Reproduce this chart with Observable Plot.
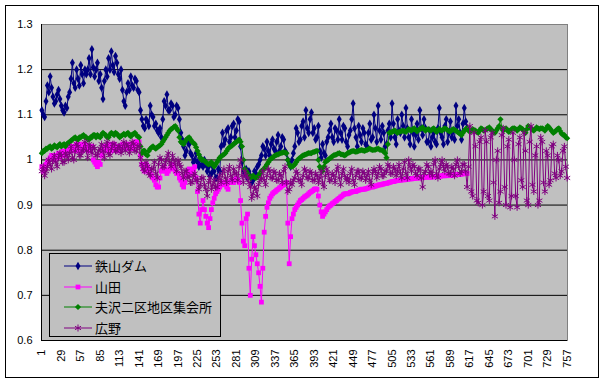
<!DOCTYPE html>
<html>
<head>
<meta charset="utf-8">
<script src="https://cdn.jsdelivr.net/npm/d3@7"></script>
<script src="https://cdn.jsdelivr.net/npm/@observablehq/plot@0.6"></script>
<style>
  html, body { margin: 0; padding: 0; background: #fff; }
  #wrap { position: relative; width: 604px; height: 381px; overflow: hidden; }
  #chart { position: absolute; left: 0; top: 0; }
  #border { position: absolute; left: 5px; top: 5px; width: 594px; height: 373px; box-sizing: border-box; border: 1px solid #000; pointer-events: none; }
  #legend { position: absolute; left: 49px; top: 253px; width: 172px; height: 84px; box-sizing: border-box; border: 1px solid #000; background: #C0C0C0; }
  .row { position: absolute; left: 0; height: 20px; width: 170px; }
  .row svg { position: absolute; left: 13px; top: 3px; }
  .row span { position: absolute; left: 45px; top: 0; font-family: "Noto Sans CJK JP", sans-serif; font-size: 13px; line-height: 20px; color: #000; white-space: nowrap; }
</style>
</head>
<body>
<div id="wrap">
  <div id="chart"></div>
  <div id="legend"></div>
  <div id="border"></div>
</div>
<script>
// category axis: measurement number (1..757); values listed for every 2nd category
const categoryStep = 2;
const xTickLabels = [1, 29, 57, 85, 113, 141, 169, 197, 225, 253, 281, 309, 337, 365, 393, 421, 449, 477, 505, 533, 561, 589, 617, 645, 673, 701, 729, 757];
const yTickLabels = [0.6, 0.7, 0.8, 0.9, 1.0, 1.1, 1.2, 1.3];
const seriesNames = ["鉄山ダム", "山田", "夫沢二区地区集会所", "広野"];

const tetsuyamaDam = [
  1.11, 1.10, 1.095, 1.13, 1.165, 1.15, 1.185, 1.16, 1.14, 1.125, 1.13, 1.145, 1.155, 1.135, 1.12, 1.11, 1.105, 1.12, 1.115, 1.14,
  1.15, 1.18, 1.215, 1.17, 1.16, 1.2, 1.18, 1.165, 1.21, 1.19, 1.17, 1.2, 1.19, 1.2, 1.225, 1.19, 1.245, 1.205, 1.185, 1.2,
  1.215, 1.175, 1.19, 1.16, 1.135, 1.175, 1.2, 1.185, 1.225, 1.2, 1.24, 1.21, 1.195, 1.23, 1.215, 1.19, 1.18, 1.2, 1.155, 1.13,
  1.12, 1.15, 1.17, 1.155, 1.185, 1.165, 1.16, 1.18, 1.175, 1.155, 1.15, 1.11, 1.09, 1.075, 1.07, 1.09, 1.085, 1.075, 1.12, 1.1,
  1.095, 1.075, 1.08, 1.065, 1.06, 1.07, 1.05, 1.09, 1.13, 1.12, 1.145, 1.11, 1.11, 1.125, 1.12, 1.095, 1.10, 1.12, 1.115, 1.09,
  1.06, 1.045, 1.03, 1.01, 1.02, 1.04, 1.035, 1.015, 1.01, 0.995, 1.0, 1.015, 0.995, 0.985, 1.005, 0.99, 0.985, 1.0, 0.99, 0.975,
  0.985, 0.965, 0.97, 0.985, 0.975, 0.96, 0.96, 0.98, 0.975, 1.03, 1.06, 1.035, 1.045, 1.065, 1.07, 1.04, 1.05, 1.075, 1.08, 1.05,
  1.065, 1.09, 1.085, 1.03, 0.995, 0.975, 0.97, 0.98, 0.96, 0.975, 0.965, 0.95, 0.955, 0.975, 0.97, 0.985, 0.99, 1.0, 1.01, 1.03,
  1.025, 1.01, 1.04, 1.02, 1.01, 1.035, 1.045, 1.025, 1.02, 1.04, 1.055, 1.02, 1.03, 1.05, 1.045, 1.02, 1.015, 1.0, 0.995, 0.985,
  1.0, 1.015, 1.03, 1.07, 1.06, 1.04, 1.045, 1.075, 1.085, 1.05, 1.11, 1.07, 1.06, 1.09, 1.105, 1.06, 1.07, 1.045, 1.05, 1.075,
  1.02, 1.005, 1.035, 1.015, 1.01, 1.04, 1.05, 1.065, 1.08, 1.05, 1.04, 1.07, 1.065, 1.045, 1.09, 1.06, 1.045, 1.075, 1.07, 1.04,
  1.03, 1.055, 1.065, 1.09, 1.125, 1.07, 1.05, 1.03, 1.075, 1.055, 1.04, 1.07, 1.06, 1.035, 1.03, 1.06, 1.08, 1.045, 1.05, 1.1,
  1.07, 1.04, 1.12, 1.065, 1.045, 1.075, 1.06, 1.03, 1.035, 1.065, 1.08, 1.05, 1.125, 1.08, 1.05, 1.035, 1.09, 1.065, 1.06, 1.1,
  1.075, 1.05, 1.115, 1.07, 1.05, 1.035, 1.09, 1.06, 1.03, 1.055, 1.08, 1.045, 1.11, 1.07, 1.055, 1.09, 1.07, 1.04, 1.04, 1.065,
  1.03, 1.05, 1.06, 1.04, 1.035, 1.07, 1.115, 1.06, 1.05, 1.035, 1.075, 1.09, 1.04, 1.06, 1.085, 1.05, 1.065, 1.045, 1.12, 1.075,
  1.09, 1.06, 1.045, 1.08, 1.115, 1.085, 1.07
];

const yamada = [
  0.985, 0.975, 0.98, 0.99, 0.995, 1.0, 1.005, 1.01, 1.01, 1.0, 1.005, 1.01, 1.015, 1.005, 1.01, 1.02, 1.015, 1.01, 1.02, 1.025,
  1.02, 1.03, 1.025, 1.02, 1.03, 1.035, 1.02, 1.03, 1.035, 1.02, 1.025, 1.035, 1.03, 1.025, 1.02, 1.03, 1.03, 1.0, 0.995, 0.99,
  0.985, 0.995, 0.99, 1.01, 1.02, 1.03, 1.025, 1.02, 1.03, 1.035, 1.02, 1.025, 1.035, 1.03, 1.025, 1.02, 1.03, 1.025, 1.035, 1.03,
  1.03, 1.035, 1.025, 1.03, 1.035, 1.025, 1.03, 1.04, 1.04, 1.035, 1.04, 1.01, 0.99, 0.98, 0.975, 0.99, 0.985, 0.975, 0.97, 0.965,
  0.96, 0.955, 0.945, 0.94, 0.94, 0.96, 0.975, 0.98, 0.985, 0.975, 0.97, 0.975, 0.98, 0.985, 0.99, 0.98, 0.975, 0.97, 0.97, 0.96,
  0.955, 0.945, 0.94, 0.95, 0.965, 0.975, 0.98, 0.975, 0.97, 0.98, 0.985, 0.96, 0.93, 0.88, 0.86, 0.89, 0.91, 0.89, 0.875, 0.86,
  0.85, 0.87, 0.89, 0.905, 0.915, 0.925, 0.93, 0.935, 0.94, 0.945, 0.945, 0.95, 0.95, 0.94, 0.935, 0.95, 0.955, 0.95, 0.95, 0.955,
  0.96, 0.955, 0.95, 0.91, 0.86, 0.82, 0.81, 0.87, 0.88, 0.76, 0.70, 0.78, 0.83, 0.81, 0.79, 0.77, 0.75, 0.72, 0.685, 0.76,
  0.84, 0.875, 0.895, 0.905, 0.915, 0.92, 0.925, 0.928, 0.93, 0.933, 0.935, 0.938, 0.94, 0.943, 0.945, 0.948, 0.95, 0.86, 0.77, 0.83,
  0.87, 0.88, 0.89, 0.895, 0.9, 0.905, 0.91, 0.912, 0.915, 0.918, 0.92, 0.922, 0.925, 0.928, 0.93, 0.932, 0.935, 0.936, 0.935, 0.92,
  0.9, 0.885, 0.875, 0.88, 0.885, 0.89, 0.895, 0.898, 0.9, 0.903, 0.905, 0.908, 0.91, 0.913, 0.915, 0.918, 0.92, 0.923, 0.925, 0.925,
  0.925, 0.926, 0.928, 0.929, 0.93, 0.93, 0.93, 0.932, 0.933, 0.934, 0.935, 0.935, 0.935, 0.936, 0.937, 0.938, 0.94, 0.94, 0.94, 0.941,
  0.942, 0.943, 0.944, 0.945, 0.945, 0.946, 0.947, 0.948, 0.948, 0.949, 0.95, 0.951, 0.952, 0.952, 0.953, 0.954, 0.955, 0.955, 0.955, 0.956,
  0.956, 0.956, 0.957, 0.957, 0.958, 0.958, 0.958, 0.959, 0.959, 0.96, 0.96, 0.96, 0.96, 0.961, 0.961, 0.961, 0.962, 0.962, 0.962, 0.962,
  0.962, 0.962, 0.963, 0.963, 0.963, 0.964, 0.964, 0.964, 0.965, 0.965, 0.965, 0.965, 0.966, 0.966, 0.966, 0.966, 0.967, 0.967, 0.968, 0.968,
  0.968, 0.968, 0.969, 0.969, 0.97, 0.97, 0.97
];

const osawa = [
  1.015, 1.02, 1.02, 1.025, 1.025, 1.028, 1.03, 1.025, 1.028, 1.032, 1.03, 1.028, 1.032, 1.035, 1.03, 1.033, 1.035, 1.03, 1.035, 1.038,
  1.04, 1.043, 1.045, 1.048, 1.05, 1.046, 1.045, 1.05, 1.05, 1.053, 1.055, 1.05, 1.05, 1.046, 1.045, 1.05, 1.05, 1.055, 1.055, 1.05,
  1.055, 1.052, 1.05, 1.056, 1.06, 1.057, 1.055, 1.05, 1.05, 1.056, 1.06, 1.058, 1.055, 1.06, 1.058, 1.054, 1.05, 1.053, 1.055, 1.058,
  1.055, 1.058, 1.06, 1.055, 1.052, 1.056, 1.058, 1.06, 1.055, 1.052, 1.05, 1.03, 1.015, 1.02, 1.02, 1.012, 1.01, 1.02, 1.025, 1.028,
  1.03, 1.027, 1.025, 1.028, 1.03, 1.032, 1.035, 1.04, 1.045, 1.05, 1.055, 1.06, 1.065, 1.068, 1.07, 1.073, 1.075, 1.07, 1.065, 1.05,
  1.04, 1.037, 1.035, 1.04, 1.045, 1.048, 1.05, 1.045, 1.04, 1.038, 1.035, 1.028, 1.02, 1.012, 1.005, 1.0, 1.0, 0.998, 0.995, 0.992,
  0.99, 0.992, 0.995, 0.99, 0.985, 0.99, 0.995, 1.0, 1.005, 1.008, 1.01, 1.012, 1.015, 1.02, 1.025, 1.028, 1.03, 1.032, 1.035, 1.038,
  1.04, 1.042, 1.045, 1.04, 1.03, 1.0, 0.98, 0.975, 0.97, 0.965, 0.96, 0.962, 0.965, 0.962, 0.96, 0.962, 0.965, 0.97, 0.975, 0.978,
  0.98, 0.985, 0.99, 0.995, 1.0, 1.003, 1.005, 1.008, 1.01, 1.011, 1.012, 1.014, 1.015, 1.016, 1.017, 1.016, 1.015, 1.0, 0.99, 0.985,
  0.985, 0.987, 0.99, 0.995, 1.0, 1.003, 1.005, 1.008, 1.01, 1.011, 1.012, 1.014, 1.015, 1.015, 1.015, 1.017, 1.018, 1.019, 1.02, 1.0,
  0.985, 0.98, 0.975, 0.985, 0.995, 0.998, 1.0, 1.003, 1.005, 1.008, 1.01, 1.011, 1.012, 1.014, 1.015, 1.013, 1.012, 1.011, 1.01, 1.012,
  1.015, 1.016, 1.018, 1.019, 1.02, 1.019, 1.018, 1.019, 1.02, 1.021, 1.022, 1.021, 1.02, 1.021, 1.022, 1.024, 1.025, 1.023, 1.022, 1.022,
  1.023, 1.024, 1.025, 1.023, 1.022, 1.021, 1.02, 1.015, 1.005, 1.035, 1.06, 1.061, 1.062, 1.064, 1.065, 1.062, 1.06, 1.062, 1.063, 1.064,
  1.065, 1.063, 1.062, 1.066, 1.068, 1.066, 1.065, 1.068, 1.07, 1.066, 1.063, 1.066, 1.068, 1.07, 1.072, 1.068, 1.065, 1.067, 1.068, 1.066,
  1.065, 1.068, 1.07, 1.066, 1.062, 1.065, 1.068, 1.066, 1.065, 1.068, 1.07, 1.068, 1.066, 1.064, 1.063, 1.066, 1.068, 1.066, 1.065, 1.062,
  1.06, 1.058, 1.055, 1.06, 1.065, 1.068, 1.07, 1.066, 1.062, 1.065, 1.068, 1.066, 1.065, 1.062, 1.06, 1.065, 1.07, 1.068, 1.065, 1.066,
  1.068, 1.07, 1.072, 1.068, 1.065, 1.062, 1.06, 1.065, 1.07, 1.075, 1.09, 1.07, 1.065, 1.068, 1.07, 1.066, 1.062, 1.065, 1.068, 1.07,
  1.07, 1.068, 1.065, 1.068, 1.072, 1.07, 1.068, 1.064, 1.06, 1.068, 1.075, 1.072, 1.07, 1.067, 1.065, 1.068, 1.072, 1.07, 1.068, 1.07,
  1.07, 1.068, 1.065, 1.07, 1.075, 1.072, 1.068, 1.064, 1.06, 1.062, 1.065, 1.068, 1.07, 1.064, 1.058, 1.056, 1.055, 1.05, 1.048
];

const hirono = [
  0.975, 0.985, 0.965, 0.975, 0.985, 1.0, 0.99, 0.98, 1.0, 1.01, 0.995, 0.985, 1.005, 1.015, 1.01, 0.995, 0.995, 1.015, 1.01, 1.0,
  1.015, 1.03, 1.005, 1.0, 1.02, 1.035, 1.03, 1.01, 1.01, 1.02, 1.025, 1.04, 1.02, 1.005, 1.035, 1.025, 1.015, 1.03, 1.025, 1.01,
  1.01, 1.02, 1.025, 1.035, 1.02, 1.005, 1.03, 1.04, 1.015, 1.01, 1.025, 1.035, 1.035, 1.02, 1.02, 1.03, 1.03, 1.015, 1.025, 1.04,
  1.02, 1.035, 1.03, 1.015, 1.025, 1.04, 1.035, 1.02, 1.02, 1.03, 1.03, 1.005, 0.99, 0.98, 0.975, 0.995, 0.985, 0.97, 0.965, 0.98,
  0.98, 0.995, 0.97, 0.96, 0.99, 1.005, 1.0, 0.985, 0.985, 0.995, 1.005, 1.015, 0.995, 0.985, 1.01, 1.0, 0.99, 0.975, 1.0, 0.99,
  0.985, 0.97, 0.96, 0.975, 0.975, 0.96, 0.965, 0.95, 0.95, 0.965, 0.97, 0.955, 0.955, 0.935, 0.945, 0.96, 0.96, 0.945, 0.935, 0.92,
  0.95, 0.96, 0.935, 0.945, 0.955, 0.94, 0.94, 0.955, 0.965, 0.95, 0.97, 0.98, 0.96, 0.95, 0.975, 0.985, 0.965, 0.955, 0.98, 0.97,
  0.97, 0.955, 0.985, 1.0, 0.965, 0.95, 0.975, 0.965, 0.96, 0.95, 0.94, 0.915, 0.925, 0.94, 0.935, 0.92, 0.945, 0.955, 0.96, 0.975,
  0.955, 0.945, 0.965, 0.98, 0.975, 0.96, 0.96, 0.975, 0.97, 0.955, 0.955, 0.97, 0.965, 0.95, 0.975, 0.985, 0.95, 0.93, 0.935, 0.95,
  0.945, 0.955, 0.96, 0.975, 0.97, 0.955, 0.955, 0.945, 0.965, 0.98, 0.975, 0.96, 0.96, 0.975, 0.97, 0.955, 0.955, 0.97, 0.965, 0.95,
  0.96, 0.975, 0.95, 0.94, 0.965, 0.98, 0.97, 0.955, 0.955, 0.97, 0.965, 0.95, 0.975, 0.985, 0.96, 0.945, 0.97, 0.98, 0.965, 0.955,
  0.96, 0.95, 0.97, 0.98, 0.955, 0.945, 0.965, 0.975, 0.975, 0.96, 0.96, 0.975, 0.97, 0.955, 0.965, 0.975, 0.955, 0.945, 0.97, 0.98,
  0.975, 0.96, 0.97, 0.985, 0.98, 0.965, 0.965, 0.975, 0.975, 0.99, 0.985, 0.97, 0.97, 0.985, 0.98, 0.965, 0.975, 0.99, 0.97, 0.96,
  0.98, 0.995, 0.97, 0.96, 1.0, 0.985, 0.975, 0.99, 0.985, 0.97, 0.965, 0.98, 0.98, 0.96, 0.94, 0.97, 0.975, 0.99, 0.985, 0.97,
  0.975, 0.965, 0.99, 1.0, 0.97, 0.96, 0.98, 0.99, 1.0, 0.985, 0.975, 0.99, 0.985, 0.97, 0.97, 0.985, 0.98, 0.965, 0.99, 1.0,
  0.985, 0.97, 0.975, 0.99, 0.99, 0.975, 0.94, 0.985, 1.075, 0.93, 0.92, 1.06, 1.03, 0.91, 0.905, 1.04, 1.05, 0.9, 0.93, 1.065,
  1.04, 0.92, 0.91, 1.05, 1.06, 0.95, 0.875, 1.0, 1.02, 0.905, 0.93, 1.055, 1.07, 0.94, 0.9, 1.03, 1.045, 0.895, 0.92, 1.06,
  1.0, 0.92, 0.895, 1.035, 1.05, 0.955, 0.94, 1.06, 1.02, 0.91, 0.9, 1.04, 1.075, 0.945, 0.93, 1.01, 1.03, 0.9, 0.91, 1.05,
  1.04, 0.95, 0.93, 1.02, 1.01, 0.945, 0.955, 1.03, 1.035, 0.97, 0.96, 1.01, 1.0, 0.965, 0.975, 1.02, 1.03, 0.985, 0.96
];

const seriesColors = ["#000080", "#FF00FF", "#008000", "#800080"];
const seriesValues = [tetsuyamaDam, yamada, osawa, hirono];

const rows = [];
seriesValues.forEach((vals, s) => {
  vals.forEach((v, i) => rows.push({series: seriesNames[s], x: 1 + i * categoryStep, y: v}));
});
const bySeries = name => rows.filter(d => d.series === name);

const gridVals = yTickLabels.filter(v => v > 0.65 && v < 1.25);
const fmt = d => String(+d.toFixed(1));

const markerFor = [
  {symbol: "diamond", r: 2.6, fill: true},
  {symbol: "square", r: 2.7, fill: true},
  {symbol: "diamond2", r: 2.8, fill: true},
  {symbol: "asterisk", r: 3.3, fill: false}
];

const marks = [
  Plot.frame({fill: "#C0C0C0", stroke: "#808080"}),
  Plot.ruleY(gridVals, {stroke: "#000", strokeWidth: 1}),
  Plot.ruleY([0.6], {stroke: "#000", strokeWidth: 1}),
  Plot.ruleX([0.5], {stroke: "#000", strokeWidth: 1})
];
seriesNames.forEach((name, s) => {
  const data = bySeries(name);
  const m = markerFor[s];
  marks.push(Plot.line(data, {x: "x", y: "y", stroke: seriesColors[s], strokeWidth: 1}));
  marks.push(Plot.dot(data, m.fill
    ? {x: "x", y: "y", symbol: () => m.symbol, r: m.r, fill: seriesColors[s], stroke: "none"}
    : {x: "x", y: "y", symbol: () => m.symbol, r: m.r, stroke: seriesColors[s], strokeWidth: 1, fill: "none"}));
});

const chart = Plot.plot({
  width: 604,
  height: 381,
  marginLeft: 41,
  marginRight: 37,
  marginTop: 24,
  marginBottom: 41,
  style: {background: "transparent", fontFamily: "'Liberation Sans', Arial, sans-serif", fontSize: "11px", color: "#000", overflow: "visible"},
  symbol: {type: "identity"},
  x: {type: "linear", domain: [0.5, 757.5], ticks: xTickLabels, tickFormat: d => String(d), tickRotate: -90, tickSize: 0, tickPadding: 9, label: null},
  y: {domain: [0.6, 1.3], ticks: yTickLabels, tickFormat: fmt, tickSize: 0, tickPadding: 9, label: null},
  marks
});
document.getElementById("chart").appendChild(chart);

// legend
const legend = d3.select("#legend");
seriesNames.forEach((name, s) => {
  const row = legend.append("div").attr("class", "row").style("top", (2 + s * 20.5) + "px");
  const svg = row.append("svg").attr("width", 30).attr("height", 14);
  svg.append("line").attr("x1", 1).attr("x2", 29).attr("y1", 7).attr("y2", 7).attr("stroke", seriesColors[s]).attr("stroke-width", 1);
  const m = markerFor[s];
  const symType = {diamond: d3.symbolDiamond, square: d3.symbolSquare, diamond2: d3.symbolDiamond2, asterisk: d3.symbolAsterisk}[m.symbol];
  svg.append("path").attr("transform", "translate(15,7)")
    .attr("d", d3.symbol(symType, Math.PI * m.r * m.r)())
    .attr("fill", m.fill ? seriesColors[s] : "none")
    .attr("stroke", m.fill ? "none" : seriesColors[s]);
  row.append("span").text(name);
});
</script>
</body>
</html>
